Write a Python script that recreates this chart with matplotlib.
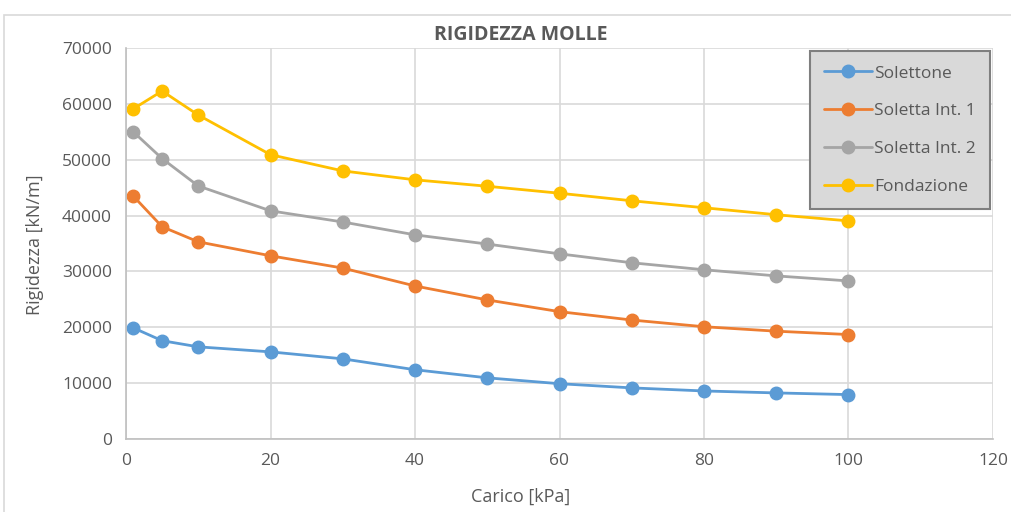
import matplotlib.pyplot as plt
from matplotlib.patches import Rectangle

plt.rcParams['font.family'] = ['Open Sans', 'DejaVu Sans']

# Data
carico = [1, 5, 10, 20, 30, 40, 50, 60, 70, 80, 90, 100]
solettone = [19900, 17600, 16500, 15600, 14350, 12400, 10950, 9900, 9150, 8600, 8250, 7950]
soletta_int1 = [43500, 38000, 35300, 32800, 30600, 27400, 24900, 22800, 21300, 20100, 19300, 18700]
soletta_int2 = [55000, 50200, 45300, 40850, 38850, 36550, 34900, 33150, 31550, 30300, 29200, 28300]
fondazione = [59100, 62300, 58000, 50900, 48000, 46400, 45250, 44000, 42650, 41400, 40150, 39050]

series = [
    ("Solettone", solettone, "#5B9BD5"),
    ("Soletta Int. 1", soletta_int1, "#ED7D31"),
    ("Soletta Int. 2", soletta_int2, "#A5A5A5"),
    ("Fondazione", fondazione, "#FFC000"),
]

text_color = "#595959"

fig = plt.figure(figsize=(10.11, 5.12), dpi=100)
ax = fig.add_axes([126 / 1011, 1 - 439 / 512, (993 - 126) / 1011, (439 - 48) / 512])

# chart area border
fig.patches.append(Rectangle((4 / 1011, -0.05), 1.1, 1 - 15 / 512 + 0.05,
                             transform=fig.transFigure, fill=False,
                             edgecolor="#D9D9D9", linewidth=1.2))

for name, vals, col in series:
    ax.plot(carico, vals, color=col, linewidth=2, marker="o", markersize=9,
            label=name, solid_capstyle="round")

ax.set_xlim(0, 120)
ax.set_ylim(0, 70000)
ax.set_xticks(range(0, 121, 20))
ax.set_yticks(range(0, 70001, 10000))
ax.grid(True, color="#D9D9D9", linewidth=1.2)
ax.set_axisbelow(True)
for s in ["top", "right"]:
    ax.spines[s].set_visible(False)
for s in ["left", "bottom"]:
    ax.spines[s].set_color("#BFBFBF")
    ax.spines[s].set_linewidth(1.2)
ax.tick_params(length=0, labelsize=12.5, colors=text_color, pad=10)

fig.text(521 / 1011, 1 - 35 / 512, "RIGIDEZZA MOLLE", ha="center", va="center",
         fontsize=14, fontweight="bold", color=text_color)
fig.text(521 / 1011, 1 - 497 / 512, "Carico [kPa]", ha="center", va="center",
         fontsize=13, color=text_color)
fig.text(35 / 1011, 1 - 245 / 512, "Rigidezza [kN/m]", ha="center", va="center",
         rotation=90, fontsize=13, color=text_color)

leg = ax.legend(loc="upper right", bbox_to_anchor=(1.0, 1.0), fontsize=12.5,
                frameon=True, fancybox=False, labelcolor=text_color,
                handlelength=2.8, labelspacing=1.25, borderpad=0.8,
                handletextpad=0.1, borderaxespad=0.2)
leg.get_frame().set_facecolor("#D9D9D9")
leg.get_frame().set_edgecolor("#7F7F7F")
leg.get_frame().set_linewidth(1.5)
leg.get_frame().set_alpha(1)

plt.savefig("out.png", dpi=100)
